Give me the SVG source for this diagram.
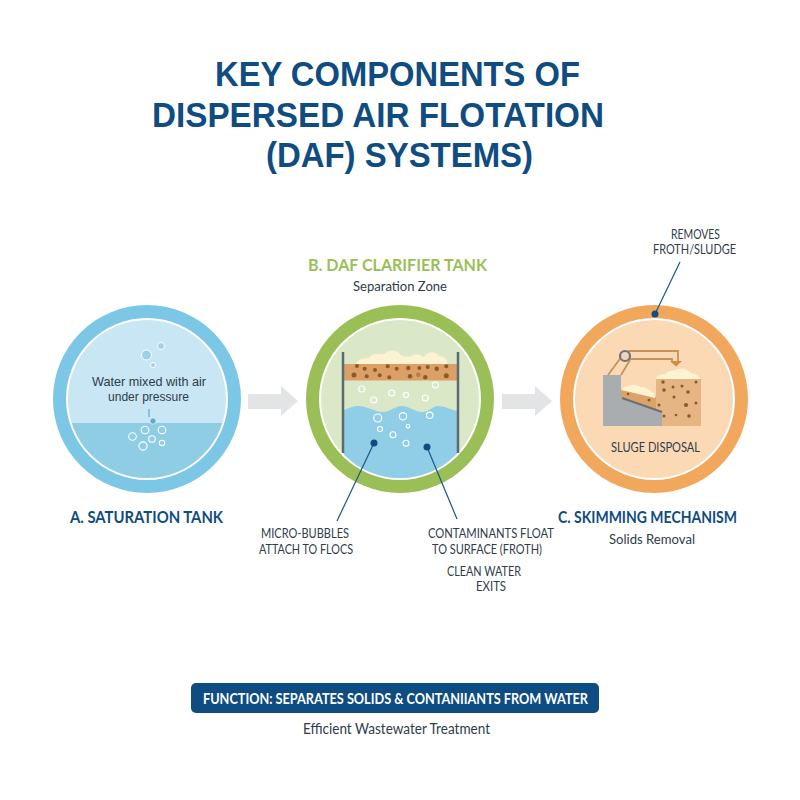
<svg xmlns="http://www.w3.org/2000/svg" width="800" height="800" viewBox="0 0 800 800">
<style>
.t{font-family:"Lato","Liberation Sans",sans-serif;fill:#2f3c4a;font-size:14px}
.w{font-family:"Liberation Sans",sans-serif;fill:#2f3c4a;font-size:13.4px}
.u{font-family:"Lato","Liberation Sans",sans-serif;fill:#2f3c4a;font-size:13px}
.h{font-family:"Liberation Sans",sans-serif;font-weight:700;fill:#0f4c81;font-size:35.5px}
.lab{font-family:"Lato","Liberation Sans",sans-serif;font-weight:700;fill:#0f4c81;font-size:17px}
.b{fill:none;stroke:#fff;stroke-width:1.1}
.f{fill:#8a5a2c}
.lead{fill:none;stroke:#1d5588;stroke-width:1.2}
.dot{fill:#0f4c81}
</style>
<defs><clipPath id="c1"><circle cx="147" cy="399" r="79"/></clipPath><clipPath id="c2"><circle cx="400" cy="399" r="79"/></clipPath></defs>
<rect width="800" height="800" fill="#fff"/>
<g id="title">
<text class="h" x="215" y="86" textLength="365" lengthAdjust="spacingAndGlyphs">KEY COMPONENTS OF</text>
<text class="h" x="152" y="127" textLength="452" lengthAdjust="spacingAndGlyphs">DISPERSED AIR FLOTATION</text>
<text class="h" x="266" y="167" textLength="267" lengthAdjust="spacingAndGlyphs">(DAF) SYSTEMS)</text>
</g>
<g id="saturation-tank">
<circle cx="147" cy="399" r="94" fill="#7cc6e6"/>
<circle cx="147" cy="399" r="81" fill="#fff"/>
<circle cx="147" cy="399" r="79" fill="#c8e6f3"/>
<rect x="60" y="423" width="180" height="70" fill="#8fcde5" clip-path="url(#c1)"/>
<g fill="#9dd2e9" stroke="#fff"><circle cx="146.500" cy="355" r="5"/><circle cx="161" cy="346" r="3.500"/><circle cx="153" cy="365" r="2.500"/></g>
<g class="b"><circle cx="145" cy="430" r="3.800"/><circle cx="162" cy="430" r="3.800"/><circle cx="132.500" cy="436.500" r="3.800"/><circle cx="152" cy="439" r="3.300"/><circle cx="162" cy="443" r="2.700"/><circle cx="143" cy="446" r="4.100"/></g>
<path d="M149 409V417" stroke="#5cadd0" stroke-width="1.200"/><circle cx="153" cy="421" r="3.200" fill="#5cadd0" stroke="#fff" stroke-width=".7"/>
<text class="w" x="92" y="386" textLength="114" lengthAdjust="spacingAndGlyphs">Water mixed with air</text>
<text class="w" x="108" y="401" textLength="81" lengthAdjust="spacingAndGlyphs">under pressure</text>
</g>
<g id="daf-clarifier-tank">
<circle cx="400" cy="399" r="94" fill="#9abf56"/>
<circle cx="400" cy="399" r="81" fill="#fff"/>
<circle cx="400" cy="399" r="79" fill="#dbe8c8"/>
<path d="M344 410C350 408 353 406 358 406C368 406 374 412 383 412C391 412 394 406 402 406C410 406 414 412 422 412C430 412 432 406 438 406C446 406 450 410 458 411V482H344Z" fill="#90cde6" clip-path="url(#c2)"/>
<path d="M356 364C357 359 364 358 369 358C372 352 380 354 385 354C388 349 397 350 400 354C404 358 410 357 413 355C417 353 422 356 424 357C427 351 436 351 439 356C444 356 449 360 447 364Z" fill="#fbf3d2"/>
<rect x="344" y="364" width="114" height="16.500" fill="#dc9f66"/>
<g class="f"><circle cx="357" cy="366" r="2"/><circle cx="364.700" cy="368.700" r="2"/><circle cx="375" cy="370" r="2"/><circle cx="387.700" cy="366.300" r="2"/><circle cx="396.700" cy="368.700" r="2"/><circle cx="408.300" cy="368" r="2.200"/><circle cx="419.300" cy="368" r="2"/><circle cx="427.700" cy="367" r="2"/><circle cx="436.700" cy="368.700" r="2.200"/><circle cx="446.300" cy="366.300" r="2"/><circle cx="354" cy="375" r="2.500"/><circle cx="366.700" cy="376.300" r="2"/><circle cx="379.700" cy="375.300" r="2"/><circle cx="389.300" cy="377.300" r="2"/><circle cx="410" cy="376.300" r="2.200"/><circle cx="418.300" cy="374.700" r="2.200" opacity=".5"/><circle cx="425.300" cy="377.300" r="2.200"/><circle cx="446.300" cy="375.700" r="2.500"/></g>
<g class="b"><circle cx="361.700" cy="389" r="3"/><circle cx="373.700" cy="400" r="3"/><circle cx="391.700" cy="393" r="3"/><circle cx="406" cy="395" r="2.600"/><circle cx="425.300" cy="398" r="3"/><circle cx="435.300" cy="385" r="3"/><circle cx="377.700" cy="418" r="4"/><circle cx="403" cy="416.300" r="3.700"/><circle cx="429.700" cy="415.300" r="3.200"/><circle cx="380" cy="429" r="2.500"/><circle cx="393" cy="434.700" r="3"/><circle cx="408" cy="426.300" r="1.800"/><circle cx="406" cy="443.300" r="3"/></g>
<path d="M343 352V453M458 352V453" stroke="#5e6a72" stroke-width="2.500"/>
</g>
<g id="skimming-mechanism">
<circle cx="654" cy="399" r="94" fill="#f1a85c"/>
<circle cx="654" cy="399" r="81" fill="#fff"/>
<circle cx="654" cy="399" r="79" fill="#fbd9b5"/>
<path d="M656 379H701V426H662V412L656 410Z" fill="#e5b684"/>
<path d="M621 390L656 397V411L621 398Z" fill="#dba36a"/>
<path d="M603 375H621V398L662 412V426H603Z" fill="#a9adb0"/>
<path d="M622 398L662 412" stroke="#6b6f72" stroke-width="2"/>
<path d="M622 390C623 386 628 387 631 385C635 384 638 386 641 387C646 387 649 390 652 392C655 393 655 396 655 398Z" fill="#fbf3d2"/>
<path d="M656 379C656 375 662 374 666 374C668 370 674 371 678 369C684 368 688 370 691 373C696 374 700 376 700 379Z" fill="#fbf3d2"/>
<g class="f"><circle cx="663" cy="382" r="1.800"/><circle cx="673" cy="387" r="1.500"/><circle cx="682" cy="386" r="1.500"/><circle cx="696" cy="382" r="1.500"/><circle cx="664" cy="390" r="1.800"/><circle cx="674" cy="397" r="1.500"/><circle cx="688" cy="392" r="1.800"/><circle cx="696" cy="403" r="1.500"/><circle cx="686" cy="405" r="2.100"/><circle cx="659" cy="405" r="1.500"/><circle cx="664" cy="416" r="1.500"/><circle cx="676" cy="415" r="1.300"/><circle cx="689" cy="416" r="1.800"/><circle cx="628" cy="394" r="1.300"/><circle cx="649" cy="400" r="1.500"/></g>
<path d="M608 375L622 356M621 375L630 360M628 351H678V362M628 359H672V362" fill="none" stroke="#c6935c" stroke-width="1.800"/>
<path d="M670 361H682L676 366.500Z" fill="#d08a44"/>
<circle cx="625" cy="356" r="5" fill="#ead5be" stroke="#6e7479" stroke-width="2.200"/>
<text class="t" x="611" y="452" textLength="89" lengthAdjust="spacingAndGlyphs">SLUGE DISPOSAL</text>
</g>
<g id="connectors">
<path d="M248 394H281V386L298 401L281 416V409H248Z" fill="#e2e4e5"/>
<path d="M502 394H535V386L552 401L535 416V409H502Z" fill="#e2e4e5"/>
<path class="lead" d="M374 443L337 521"/><circle class="dot" cx="374" cy="443" r="3.500"/>
<path class="lead" d="M427 447L457 519"/><circle class="dot" cx="427" cy="447" r="3.500"/>
<path class="lead" d="M655 314L680 262"/><circle class="dot" cx="655" cy="314" r="3.500"/>
</g>
<g id="labels">
<text class="lab" x="70" y="523" textLength="153" lengthAdjust="spacingAndGlyphs">A. SATURATION TANK</text>
<text class="lab" x="308" y="271" textLength="179" lengthAdjust="spacingAndGlyphs" style="fill:#9abf56">B. DAF CLARIFIER TANK</text>
<text class="t" x="353" y="291" textLength="94" lengthAdjust="spacingAndGlyphs">Separation Zone</text>
<text class="lab" x="558" y="523" textLength="179" lengthAdjust="spacingAndGlyphs">C. SKIMMING MECHANISM</text>
<text class="t" x="609" y="544" textLength="86" lengthAdjust="spacingAndGlyphs">Solids Removal</text>
<text class="u" x="261" y="538" textLength="88" lengthAdjust="spacingAndGlyphs">MICRO-BUBBLES</text>
<text class="u" x="259" y="554" textLength="94" lengthAdjust="spacingAndGlyphs">ATTACH TO FLOCS</text>
<text class="u" x="428" y="538" textLength="126" lengthAdjust="spacingAndGlyphs">CONTAMINANTS FLOAT</text>
<text class="u" x="432" y="554" textLength="110" lengthAdjust="spacingAndGlyphs">TO SURFACE (FROTH)</text>
<text class="u" x="447" y="576" textLength="74" lengthAdjust="spacingAndGlyphs">CLEAN WATER</text>
<text class="u" x="476" y="591" textLength="30" lengthAdjust="spacingAndGlyphs">EXITS</text>
<text class="u" x="671" y="239" textLength="49" lengthAdjust="spacingAndGlyphs">REMOVES</text>
<text class="u" x="653" y="254" textLength="83" lengthAdjust="spacingAndGlyphs">FROTH/SLUDGE</text>
</g>
<g id="function-banner">
<rect x="191" y="683" width="408" height="30" rx="5" fill="#0f4c81"/>
<text x="203" y="704" font-family="Lato,'Liberation Sans',sans-serif" font-weight="700" font-size="15" fill="#fff" textLength="385" lengthAdjust="spacingAndGlyphs">FUNCTION: SEPARATES SOLIDS &amp; CONTANIIANTS FROM WATER</text>
<text class="t" x="303" y="734" style="font-size:14.500px" textLength="187" lengthAdjust="spacingAndGlyphs">Efficient Wastewater Treatment</text>
</g>
</svg>
